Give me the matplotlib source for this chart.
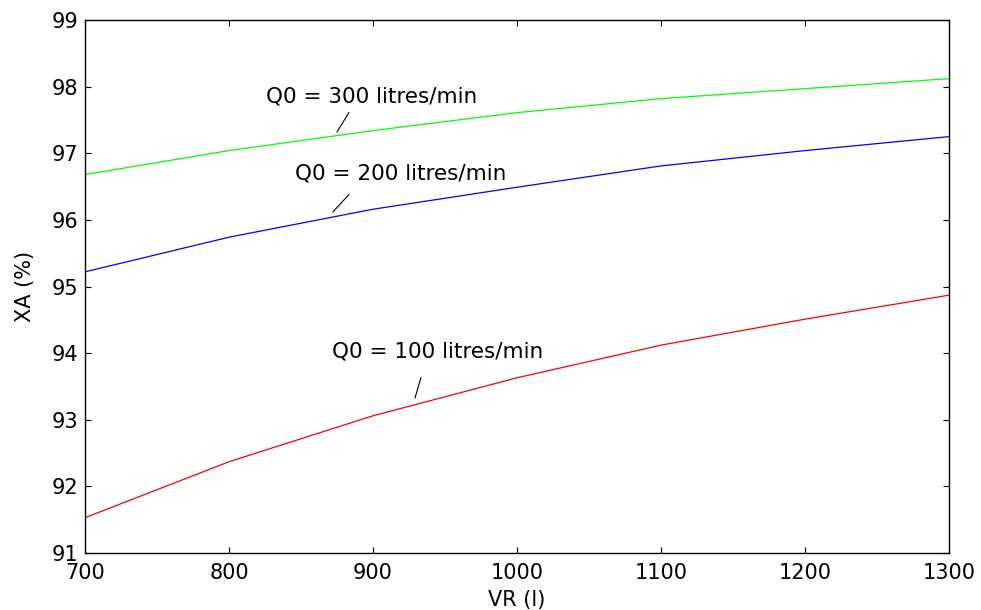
import numpy as np
import matplotlib.pyplot as plt

plt.rcParams['font.family'] = ['DejaVu Sans']

vr = [700, 800, 900, 1000, 1100, 1200, 1300]
xa_q100 = [91.53, 92.37, 93.06, 93.63, 94.12, 94.51, 94.87]
xa_q200 = [95.22, 95.74, 96.16, 96.49, 96.81, 97.04, 97.25]
xa_q300 = [96.68, 97.04, 97.34, 97.61, 97.82, 97.97, 98.12]

fig = plt.figure(figsize=(9.81, 6.1), dpi=100)
ax = fig.add_axes([0.0866, 0.0934, 0.8808, 0.8738])

ax.plot(vr, xa_q300, color='#00ff00', lw=0.9)
ax.plot(vr, xa_q200, color='#0000ff', lw=0.9)
ax.plot(vr, xa_q100, color='#ff0000', lw=0.9)

# labels with little pointer lines, as in the matlab figure
fs = 15
ax.text(825.7, 97.85, 'Q0 = 300 litres/min', fontsize=15.5, va='center')
ax.plot([883.3, 875], [97.61, 97.32], color='black', lw=0.8)
ax.text(845.8, 96.69, 'Q0 = 200 litres/min', fontsize=15.5, va='center')
ax.plot([883.3, 872.2], [96.38, 96.12], color='black', lw=0.8)
ax.text(871.5, 94.02, 'Q0 = 100 litres/min', fontsize=15.5, va='center')
ax.plot([933.3, 929.2], [93.63, 93.33], color='black', lw=0.8)

ax.set_xlim(700, 1300)
ax.set_ylim(91, 99)
ax.set_xticks(np.arange(700, 1301, 100))
ax.set_yticks(np.arange(91, 100, 1))
ax.tick_params(direction='in', top=True, right=True, labelsize=fs, length=4)
ax.tick_params(axis='x', pad=7)
ax.tick_params(axis='y', pad=5)
for s in ax.spines.values():
    s.set_linewidth(1.0)

ax.set_xlabel('VR (l)', fontsize=fs, labelpad=5)
ax.set_ylabel('XA (%)', fontsize=fs, labelpad=12)

fig.savefig('out.png', dpi=100)
